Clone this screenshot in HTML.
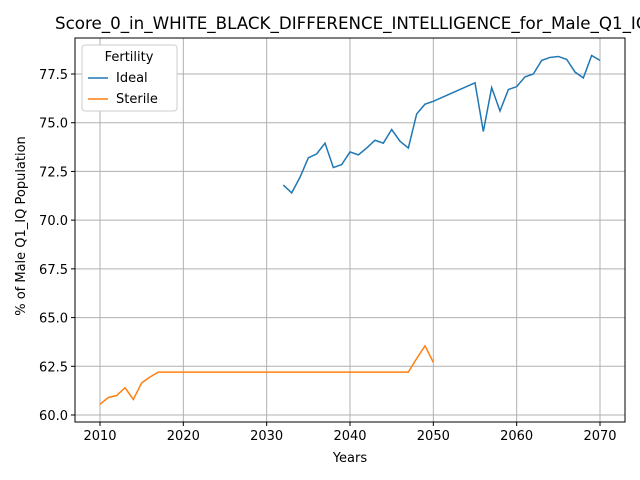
<!DOCTYPE html>
<html><head><meta charset="utf-8"><style>body{margin:0;background:#fff;overflow:hidden}svg{display:block;font-family:"DejaVu Sans","Liberation Sans",sans-serif}</style></head>
<body>
<svg id="c" width="640" height="480" xmlns="http://www.w3.org/2000/svg"></svg>
<script>
const idealYears=[2032,2033,2034,2035,2036,2037,2038,2039,2040,2041,2042,2043,2044,2045,2046,2047,2048,2049,2050,2055,2056,2057,2058,2059,2060,2061,2062,2063,2064,2065,2066,2067,2068,2069,2070];
const idealValues=[71.8,71.4,72.2,73.2,73.4,73.95,72.7,72.85,73.5,73.35,73.7,74.1,73.95,74.65,74.05,73.7,75.45,75.95,76.1,77.05,74.55,76.8,75.6,76.7,76.85,77.35,77.5,78.2,78.35,78.4,78.25,77.6,77.3,78.45,78.2];
const sterileYears=[2010,2011,2012,2013,2014,2015,2016,2017,2047,2048,2049,2050];
const sterileValues=[60.55,60.9,61.0,61.4,60.8,61.65,61.95,62.2,62.2,62.9,63.55,62.7];
const xTicks=[2010,2020,2030,2040,2050,2060,2070];
const yTicks=[60.0,62.5,65.0,67.5,70.0,72.5,75.0,77.5];
const NS="http://www.w3.org/2000/svg",svg=document.getElementById('c');
const L=75,R=625,T=38,B=422;
const xs=v=>100+(v-2010)*500/60, ys=v=>415-(v-60)*341/17.5;
function mk(t,a,p){const e=document.createElementNS(NS,t);for(const k in a)e.setAttribute(k,a[k]);(p||svg).appendChild(e);return e;}
const grid=mk('g',{});


xTicks.forEach(t=>{const x=xs(t);mk('line',{x1:x,x2:x,y1:T,y2:B,stroke:'#b0b0b0','stroke-width':1},grid);mk('line',{x1:x,x2:x,y1:B,y2:B+4,stroke:'#000'});const s=mk('text',{x:x,y:B+18,'text-anchor':'middle','font-size':13});s.textContent=t;});
yTicks.forEach(t=>{const y=ys(t);mk('line',{x1:L,x2:R,y1:y,y2:y,stroke:'#b0b0b0','stroke-width':1},grid);mk('line',{x1:L-4,x2:L,y1:y,y2:y,stroke:'#000'});const s=mk('text',{x:L-7,y:y+5,'text-anchor':'end','font-size':13});s.textContent=t.toFixed(1);});
function line(xsA,vs,c,n){const p=mk('polyline',{points:xsA.map((x,i)=>xs(x)+','+ys(vs[i])).join(' '),fill:'none',stroke:c,'stroke-width':1.5});}
line(idealYears,idealValues,'#1f77b4','ideal-line');
line(sterileYears,sterileValues,'#ff7f0e','sterile-line');
const f=mk('rect',{x:L,y:T,width:R-L,height:B-T,fill:'none',stroke:'#000','stroke-width':1});

let t=mk('text',{x:55,y:29,'font-size':16.7});t.textContent='Score_0_in_WHITE_BLACK_DIFFERENCE_INTELLIGENCE_for_Male_Q1_IQ';
t=mk('text',{x:350,y:462,'text-anchor':'middle','font-size':13});t.textContent='Years';
t=mk('text',{x:25,y:226,'text-anchor':'middle','font-size':13,transform:'rotate(-90 25 226)'});t.textContent='% of Male Q1_IQ Population';
const lg=mk('g',{});
mk('rect',{x:82,y:45,width:95,height:66,fill:'#fff',stroke:'#ccc',rx:3},lg);
t=mk('text',{x:129,y:61,'text-anchor':'middle','font-size':13},lg);t.textContent='Fertility';
[['Ideal','#1f77b4',82],['Sterile','#ff7f0e',103]].forEach(([n,c,y])=>{mk('line',{x1:88,x2:108,y1:y-4,y2:y-4,stroke:c,'stroke-width':1.5},lg);const s=mk('text',{x:116,y:y,'font-size':13},lg);s.textContent=n;});
</script>
</body></html>
